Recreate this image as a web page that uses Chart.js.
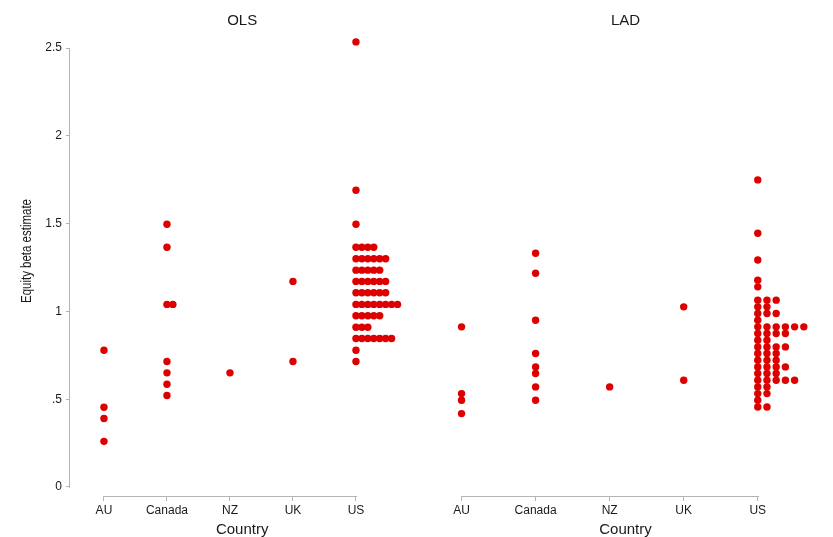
<!DOCTYPE html>
<html>
<head>
<meta charset="utf-8">
<script src="https://cdn.jsdelivr.net/npm/chart.js@4.4.1/dist/chart.umd.min.js"></script>
<style>
  html, body { margin: 0; padding: 0; background: #ffffff; }
  #wrap { position: relative; width: 833px; height: 537px; overflow: hidden; }
  #c1 { position: absolute; left: 0; top: 0; }
  #c2 { position: absolute; left: 418px; top: 0; }
</style>
</head>
<body>
<div id="wrap">
  <canvas id="c1" width="418" height="537"></canvas>
  <canvas id="c2" width="415" height="537"></canvas>
</div>
<script>
// ---------------- data ----------------
const categories = ['AU', 'Canada', 'NZ', 'UK', 'US'];
const yTickValues = [0, 0.5, 1, 1.5, 2, 2.5];
const yTickLabels = ['0', '.5', '1', '1.5', '2', '2.5'];
const panelTitles = ['OLS', 'LAD'];

// OLS equity beta estimates (binned as in the dot plot)
const olsAU = [0.779, 0.454, 0.390, 0.260];
const olsCanada = [1.496, 1.365, 1.040, 1.040, 0.715, 0.650, 0.585, 0.521];
const olsNZ = [0.650];
const olsUK = [1.171, 0.715];
const olsUS = [
  2.535, 1.690, 1.496,
  1.365, 1.365, 1.365, 1.365,
  1.300, 1.300, 1.300, 1.300, 1.300, 1.300,
  1.235, 1.235, 1.235, 1.235, 1.235,
  1.171, 1.171, 1.171, 1.171, 1.171, 1.171,
  1.106, 1.106, 1.106, 1.106, 1.106, 1.106,
  1.040, 1.040, 1.040, 1.040, 1.040, 1.040, 1.040, 1.040,
  0.975, 0.975, 0.975, 0.975, 0.975,
  0.910, 0.910, 0.910,
  0.846, 0.846, 0.846, 0.846, 0.846, 0.846, 0.846,
  0.779, 0.715
];

// LAD equity beta estimates
const ladAU = [0.912, 0.532, 0.494, 0.418];
const ladCanada = [1.331, 1.217, 0.950, 0.760, 0.684, 0.646, 0.570, 0.494];
const ladNZ = [0.570];
const ladUK = [1.026, 0.608];
const ladUS = [
  1.749, 1.445, 1.293, 1.178, 1.140,
  1.064, 1.064, 1.064,
  1.026, 1.026,
  0.988, 0.988, 0.988,
  0.950,
  0.912, 0.912, 0.912, 0.912, 0.912, 0.912,
  0.874, 0.874, 0.874, 0.874,
  0.836, 0.836,
  0.798, 0.798, 0.798, 0.798,
  0.760, 0.760, 0.760,
  0.722, 0.722, 0.722,
  0.684, 0.684, 0.684, 0.684,
  0.646, 0.646, 0.646,
  0.608, 0.608, 0.608, 0.608, 0.608,
  0.570, 0.570,
  0.532, 0.532,
  0.494,
  0.456, 0.456
];

const olsSeries = [olsAU, olsCanada, olsNZ, olsUK, olsUS];
const ladSeries = [ladAU, ladCanada, ladNZ, ladUK, ladUS];

// ---------------- styling ----------------
const dotColor = '#dc0000';
const axisColor = '#b4b4b4';
const textColor = '#1a1a1a';
const fontFamily = "'Liberation Sans', Arial, Helvetica, sans-serif";
Chart.defaults.font.family = fontFamily;

// Stack equal (binned) values side by side, as a dot plot does
function dotPoints(series, dx) {
  const pts = [];
  series.forEach((vals, ci) => {
    const seen = {};
    vals.forEach(v => {
      const k = seen[v] || 0;
      seen[v] = k + 1;
      pts.push({ x: ci + k * dx, y: v });
    });
  });
  return pts;
}

const panelDecor = {
  id: 'panelDecor',
  beforeDatasetsDraw(chart, args, opts) {
    const { ctx, chartArea, scales: { x, y } } = chart;
    ctx.save();
    ctx.strokeStyle = axisColor;
    ctx.lineWidth = 1;
    ctx.beginPath();
    const yb = Math.round(chartArea.bottom) + 0.5;
    ctx.moveTo(Math.round(x.getPixelForValue(0)), yb);
    ctx.lineTo(Math.round(x.getPixelForValue(categories.length - 1)) + 1, yb);
    if (opts.yLine) {
      const xl = Math.round(chartArea.left) - 0.5;
      ctx.moveTo(xl, Math.round(y.getPixelForValue(yTickValues[0])) + 1);
      ctx.lineTo(xl, Math.round(y.getPixelForValue(yTickValues[yTickValues.length - 1])));
    }
    ctx.stroke();

    // panel title
    ctx.fillStyle = textColor;
    ctx.textAlign = 'center';
    ctx.textBaseline = 'middle';
    ctx.font = '15px ' + fontFamily;
    ctx.fillText(opts.title, (chartArea.left + chartArea.right) / 2, 21);

    // y-axis title
    if (opts.yTitle) {
      ctx.save();
      ctx.translate(27, 251);
      ctx.rotate(-Math.PI / 2);
      ctx.scale(0.82, 1);
      ctx.font = '14px ' + fontFamily;
      ctx.fillText(opts.yTitle, 0, 0);
      ctx.restore();
    }
    ctx.restore();
  }
};

function makeChart(canvasId, series, dx, title, showY, xMin, xMax, padRight) {
  return new Chart(document.getElementById(canvasId), {
    type: 'scatter',
    data: {
      datasets: [{
        data: dotPoints(series, dx),
        backgroundColor: dotColor,
        borderWidth: 0,
        pointRadius: 3.7,
        pointHoverRadius: 3.7,
        clip: false
      }]
    },
    options: {
      responsive: false,
      animation: false,
      events: [],
      layout: { padding: { top: 37.5, left: 0, right: padRight, bottom: 0 } },
      plugins: {
        legend: { display: false },
        tooltip: { enabled: false },
        panelDecor: { title: title, yLine: showY, yTitle: showY ? 'Equity beta estimate' : null }
      },
      scales: {
        x: {
          type: 'linear',
          min: xMin,
          max: xMax,
          afterBuildTicks: (s) => { s.ticks = categories.map((c, i) => ({ value: i })); },
          afterFit: (s) => { s.height = 41; },
          ticks: {
            callback: (v, i) => categories[i],
            color: textColor,
            font: { size: 12 },
            padding: 2,
            maxRotation: 0,
            autoSkip: false
          },
          grid: { drawOnChartArea: false, drawTicks: true, tickLength: 5, color: axisColor, lineWidth: 1 },
          border: { display: false },
          title: {
            display: true,
            text: 'Country',
            color: textColor,
            font: { size: 15, lineHeight: 1 },
            padding: { top: 0, bottom: 0 }
          }
        },
        y: {
          type: 'linear',
          display: showY,
          min: -0.0513,
          max: 2.56,
          afterBuildTicks: (s) => { s.ticks = yTickValues.map(v => ({ value: v })); },
          afterFit: (s) => { s.width = showY ? 70 : 0; },
          ticks: {
            callback: (v, i) => yTickLabels[i],
            color: textColor,
            font: { size: 12 },
            padding: 4
          },
          grid: { drawOnChartArea: false, drawTicks: true, tickLength: 4, color: axisColor, lineWidth: 1 },
          border: { display: false }
        }
      }
    },
    plugins: [panelDecor]
  });
}

makeChart('c1', olsSeries, 0.0942, panelTitles[0], true, -0.539, 4.926, 0);
makeChart('c2', ladSeries, 0.1244, panelTitles[1], false, -0.538, 4.966, 3);
</script>
</body>
</html>
